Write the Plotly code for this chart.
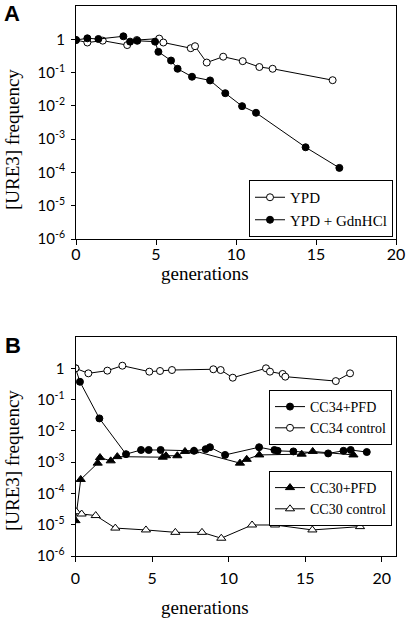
import plotly.graph_objects as go

# Panel A data
ypd_gen = [0, 0.71, 1.67, 3.2, 3.8, 5.2, 5.46, 7.17, 7.44, 8.17, 9.2, 10.42, 11.46, 12.29, 16.04]
ypd_freq = [0.95, 0.8, 0.91, 0.67, 0.95, 1.05, 0.8, 0.54, 0.62, 0.2, 0.3, 0.22, 0.147, 0.13, 0.059]
gdn_gen = [0, 0.71, 1.4, 2.96, 3.38, 3.83, 4.94, 5.15, 5.94, 6.35, 7.25, 8.38, 9.33, 10.38, 11.25, 14.35, 16.46]
gdn_freq = [0.95, 1.07, 1.02, 1.23, 0.85, 0.9, 0.85, 0.42, 0.23, 0.13, 0.075, 0.058, 0.024, 0.0098, 0.0062, 5.7e-4, 1.37e-4]

# Panel B data
cc34pfd_gen = [0, 0.29, 1.56, 3.3, 4.28, 4.78, 5.56, 7.74, 8.5, 8.78, 9.77, 11.99, 12.99, 13.2, 14.23, 16.5, 17.5, 17.97, 19.02]
cc34pfd_freq = [1.0, 0.37, 0.025, 1.8e-3, 2.45e-3, 2.45e-3, 2.45e-3, 2.3e-3, 2.6e-3, 3.0e-3, 1.7e-3, 3.0e-3, 2.45e-3, 2.3e-3, 2.2e-3, 1.9e-3, 2.3e-3, 2.45e-3, 2.1e-3]
cc34ctl_gen = [0, 0.84, 2.08, 3.06, 4.82, 5.52, 6.3, 9.0, 9.48, 10.27, 12.44, 12.7, 13.53, 13.7, 17.0, 17.93]
cc34ctl_freq = [1.0, 0.69, 0.84, 1.21, 0.78, 0.82, 0.88, 0.93, 0.88, 0.5, 1.0, 0.78, 0.66, 0.54, 0.39, 0.69]
cc30pfd_gen = [0, 0.34, 1.45, 1.6, 2.3, 2.73, 5.7, 5.91, 6.65, 7.15, 7.74, 10.74, 11.18, 12.0, 14.77, 15.49, 18.15]
cc30pfd_freq = [1.35e-5, 2.8e-4, 9.3e-4, 1.4e-3, 1.1e-3, 1.5e-3, 1.44e-3, 1.6e-3, 1.6e-3, 2.2e-3, 2.3e-3, 9.3e-4, 1.23e-3, 1.7e-3, 1.8e-3, 2.2e-3, 1.7e-3]
cc30ctl_gen = [0.05, 0.4, 1.32, 2.6, 4.6, 6.52, 8.26, 9.52, 11.53, 13.03, 15.47, 18.58]
cc30ctl_freq = [2.6e-5, 2.2e-5, 1.96e-5, 7.8e-6, 6.8e-6, 5.7e-6, 5.7e-6, 3.7e-6, 9.8e-6, 9.8e-6, 6.8e-6, 8.7e-6]

y_tickvals = [1e-6, 1e-5, 1e-4, 1e-3, 1e-2, 1e-1, 1]
y_ticktext = ["10<sup>-6</sup>", "10<sup>-5</sup>", "10<sup>-4</sup>", "10<sup>-3</sup>",
              "10<sup>-2</sup>", "10<sup>-1</sup>", "1"]
x_tickvals = [0, 5, 10, 15, 20]

W, H = 407, 619
SERIF = "Liberation Serif, Times New Roman, serif"
SANS = "Lato, Liberation Sans, sans-serif"

def line_trace(x, y, name, filled, symbol, xa, ya, legend):
    return go.Scatter(
        x=x, y=y, name=name, mode="lines+markers",
        xaxis=xa, yaxis=ya, legend=legend,
        line=dict(color="black", width=1),
        marker=dict(symbol=symbol, size=7 if symbol == "circle" else 8,
                    color="black" if filled else "white",
                    line=dict(color="black", width=1)),
    )

fig = go.Figure()
fig.add_trace(line_trace(ypd_gen, ypd_freq, "YPD", False, "circle", "x", "y", "legend"))
fig.add_trace(line_trace(gdn_gen, gdn_freq, "YPD + GdnHCl", True, "circle", "x", "y", "legend"))
fig.add_trace(line_trace(cc34pfd_gen, cc34pfd_freq, "CC34+PFD", True, "circle", "x2", "y2", "legend2"))
fig.add_trace(line_trace(cc34ctl_gen, cc34ctl_freq, "CC34 control", False, "circle", "x2", "y2", "legend2"))
fig.add_trace(line_trace(cc30pfd_gen, cc30pfd_freq, "CC30+PFD", True, "triangle-up", "x2", "y2", "legend3"))
fig.add_trace(line_trace(cc30ctl_gen, cc30ctl_freq, "CC30 control", False, "triangle-up", "x2", "y2", "legend3"))

def xaxis_cfg(domain, rng, anchor, standoff):
    return dict(domain=domain, range=rng, anchor=anchor, tickvals=x_tickvals,
                ticks="outside", ticklen=5, tickcolor="black", showline=True,
                linecolor="black", linewidth=1, mirror=True, showgrid=False,
                zeroline=False, tickfont=dict(family=SANS, size=16, color="black"),
                ticklabelstandoff=standoff)

def yaxis_cfg(domain, anchor):
    return dict(domain=domain, type="log", range=[-6, 1], anchor=anchor,
                tickvals=y_tickvals, ticktext=y_ticktext, ticks="outside",
                ticklen=4, tickcolor="black", showline=True, linecolor="black",
                linewidth=1, mirror=True, showgrid=False, zeroline=False,
                tickfont=dict(family=SANS, size=15, color="black"),
                ticklabelstandoff=3)

legend_common = dict(bgcolor="white", bordercolor="black", borderwidth=1,
                     font=dict(family=SERIF, size=16, color="black"),
                     itemwidth=30, tracegroupgap=0, traceorder="normal")

fig.update_layout(
    width=W, height=H, margin=dict(l=0, r=0, t=0, b=0, autoexpand=False),
    paper_bgcolor="white", plot_bgcolor="white",
    xaxis=xaxis_cfg([76 / W, 396 / W], [0, 20], "y", -4),
    yaxis=yaxis_cfg([1 - 239 / H, 1 - 6 / H], "x"),
    xaxis2=xaxis_cfg([75.5 / W, 396 / W], [0, 20.93], "y2", 3),
    yaxis2=yaxis_cfg([1 - 556 / H, 1 - 337 / H], "x2"),
    legend=dict(legend_common, x=393 / W, xanchor="right", y=1 - 237 / H, yanchor="bottom",
                font=dict(family=SERIF, size=15, color="black")),
    legend2=dict(legend_common, x=392 / W, xanchor="right", y=1 - 390 / H, yanchor="top",
                 font=dict(family=SERIF, size=14, color="black")),
    legend3=dict(legend_common, x=392 / W, xanchor="right", y=1 - 471 / H, yanchor="top",
                 font=dict(family=SERIF, size=14, color="black")),
    showlegend=True,
)

def ann(text, x, y, size, family, angle=0, bold=False):
    fig.add_annotation(text=f"<b>{text}</b>" if bold else text, x=x / W, y=1 - y / H,
                       xref="paper", yref="paper", showarrow=False, textangle=angle,
                       font=dict(family=family, size=size, color="black"),
                       xanchor="center", yanchor="middle")

ann("A", 12, 13, 22, "Liberation Sans, Arial, sans-serif", bold=True)
ann("B", 13, 345, 22, "Liberation Sans, Arial, sans-serif", bold=True)
ann("[URE3] frequency", 12, 140, 19, SERIF, angle=-90)
ann("[URE3] frequency", 12, 461, 19, SERIF, angle=-90)
ann("generations", 205, 274, 19, SERIF)
ann("generations", 205, 607, 19, SERIF)

fig.write_html("out.html", config={"displayModeBar": False},
               post_script="document.body.style.margin='0px';document.body.style.padding='0px';document.body.style.overflow='hidden';")
